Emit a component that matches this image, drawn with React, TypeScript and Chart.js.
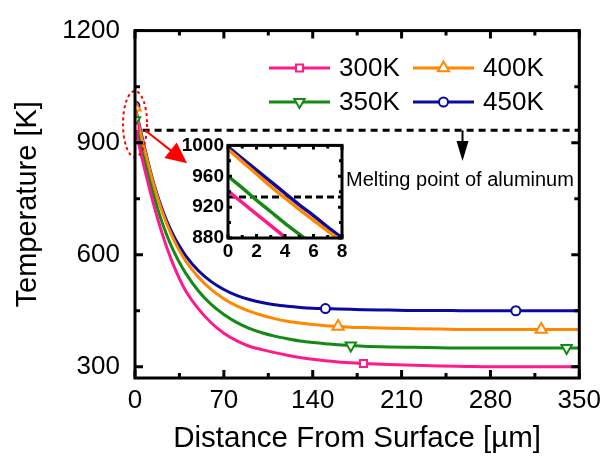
import { useEffect, useRef } from "react";
import { Chart, registerables } from "chart.js";
import { drawPoint } from "chart.js/helpers";

Chart.register(...registerables);

// Distance from the surface [µm]
const DISTANCE = [0, 1, 2, 3, 4, 5, 6, 7, 8, 10, 12, 15, 20, 25, 30, 35, 40, 50, 60, 70, 80, 90, 100, 110, 120, 130, 140, 150, 160, 170, 180, 200, 220, 240, 260, 280, 300, 320, 340, 350];

// Temperature profiles [K] for each initial temperature
const T_300K = [941, 926, 911, 896, 881, 866, 852, 838, 824, 796, 769, 731, 672, 620, 575, 536, 503, 455, 418, 390, 370, 355, 346, 338, 331, 325, 320, 316, 313, 311, 309, 306, 304, 302, 301, 300, 300, 300, 300, 300];
const T_350K = [960, 945, 929, 914, 899, 885, 871, 858, 845, 818, 792, 756, 700, 653, 613, 579, 550, 503, 467, 440, 419, 403, 391, 382, 375, 369, 365, 362, 359, 357, 355, 353, 352, 351, 350, 350, 350, 350, 350, 350];
const T_400K = [995, 979, 963, 947, 932, 917, 903, 889, 876, 848, 821, 784, 729, 683, 644, 611, 583, 540, 507, 482, 463, 449, 438, 429, 422, 417, 413, 410, 408, 406, 405, 403, 402, 401, 400, 400, 400, 400, 400, 400];
const T_450K = [998, 983, 968, 953, 938, 923, 909, 894, 880, 852, 825, 788, 735, 691, 654, 623, 597, 557, 528, 507, 491, 480, 472, 466, 462, 459, 457, 456, 455, 454, 453, 452, 451, 451, 450, 450, 450, 450, 450, 450];

// Distances where each series shows its marker
const MARKS_300K = [0, 180];
const MARKS_350K = [0, 170, 340];
const MARKS_400K = [0, 160, 320];
const MARKS_450K = [0, 150, 300];

const SERIES_LABELS = ["300K", "350K", "400K", "450K"];

const X_TICKS = [0, 70, 140, 210, 280, 350];
const Y_TICKS = [300, 600, 900, 1200];
const INSET_X_TICKS = [0, 2, 4, 6, 8];
const INSET_Y_TICKS = [880, 920, 960, 1000];

const MELTING_POINT = 933;
const MELTING_LABEL = "Melting point of aluminum";

const FONT = "'Liberation Sans', Arial, Helvetica, sans-serif";

const STYLES = [
  { color: "#FF1A8C", pointStyle: "rect", rotation: 0, radius: 5 },
  { color: "#138A13", pointStyle: "triangle", rotation: 180, radius: 6 },
  { color: "#FF8800", pointStyle: "triangle", rotation: 0, radius: 6.5 },
  { color: "#0A0AA0", pointStyle: "circle", rotation: 0, radius: 4.5 },
];

const SERIES = [T_300K, T_350K, T_400K, T_450K];
const MARKS = [MARKS_300K, MARKS_350K, MARKS_400K, MARKS_450K];

const midpoints = (ticks: number[]) =>
  ticks.slice(1).map((v, i) => (v + ticks[i]) / 2);

function drawFrame(
  chart: any,
  xMajor: number[],
  yMajor: number[],
  lw: number,
  majorLen: number,
  minorLen: number
) {
  const { ctx, chartArea, scales } = chart;
  const { left, right, top, bottom } = chartArea;
  const xs = scales.x;
  const ys = scales.y;
  ctx.save();
  ctx.strokeStyle = "#000";
  ctx.lineWidth = lw;
  ctx.lineCap = "butt";
  ctx.beginPath();
  const xTick = (v: number, len: number) => {
    const px = xs.getPixelForValue(v);
    ctx.moveTo(px, bottom);
    ctx.lineTo(px, bottom - len);
    ctx.moveTo(px, top);
    ctx.lineTo(px, top + len);
  };
  const yTick = (v: number, len: number) => {
    const py = ys.getPixelForValue(v);
    ctx.moveTo(left, py);
    ctx.lineTo(left + len, py);
    ctx.moveTo(right, py);
    ctx.lineTo(right - len, py);
  };
  xMajor.forEach((v) => xTick(v, majorLen));
  midpoints(xMajor).forEach((v) => xTick(v, minorLen));
  yMajor.forEach((v) => yTick(v, majorLen));
  midpoints(yMajor).forEach((v) => yTick(v, minorLen));
  ctx.stroke();
  ctx.strokeRect(left, top, right - left, bottom - top);
  ctx.restore();
}

function arrowHead(ctx: CanvasRenderingContext2D, x0: number, y0: number, x1: number, y1: number, len: number, half: number) {
  const a = Math.atan2(y1 - y0, x1 - x0);
  const bx = x1 - len * Math.cos(a);
  const by = y1 - len * Math.sin(a);
  ctx.beginPath();
  ctx.moveTo(x1, y1);
  ctx.lineTo(bx + half * Math.sin(a), by - half * Math.cos(a));
  ctx.lineTo(bx - half * Math.sin(a), by + half * Math.cos(a));
  ctx.closePath();
  ctx.fill();
}

const mainDecor = {
  id: "mainDecor",
  afterDatasetsDraw(chart: any) {
    const { ctx, chartArea, scales } = chart;
    const xs = scales.x;
    const ys = scales.y;
    const yMelt = ys.getPixelForValue(MELTING_POINT);
    ctx.save();

    // melting point line
    ctx.strokeStyle = "#000";
    ctx.lineWidth = 3;
    ctx.setLineDash([7, 5]);
    ctx.beginPath();
    ctx.moveTo(xs.getPixelForValue(6), yMelt);
    ctx.lineTo(chartArea.right, yMelt);
    ctx.stroke();
    ctx.setLineDash([]);

    // downward arrow from the melting line
    const ax = xs.getPixelForValue(258);
    const ayEnd = ys.getPixelForValue(851);
    ctx.lineWidth = 2;
    ctx.beginPath();
    ctx.moveTo(ax, yMelt);
    ctx.lineTo(ax, ayEnd - 15);
    ctx.stroke();
    ctx.fillStyle = "#000";
    arrowHead(ctx, ax, yMelt, ax, ayEnd, 20, 6);

    ctx.font = `20px ${FONT}`;
    ctx.textAlign = "left";
    ctx.textBaseline = "middle";
    ctx.fillText(MELTING_LABEL, 346, 180);

    // red dashed ellipse around the surface region
    ctx.strokeStyle = "#FF0000";
    ctx.fillStyle = "#FF0000";
    ctx.lineWidth = 2;
    ctx.setLineDash([3, 3]);
    ctx.beginPath();
    ctx.ellipse(xs.getPixelForValue(0), ys.getPixelForValue(950), 12, 33, 0, 0, Math.PI * 2);
    ctx.stroke();
    ctx.setLineDash([]);

    // red arrow pointing to the inset
    const sx = xs.getPixelForValue(8);
    const sy = ys.getPixelForValue(MELTING_POINT);
    const ex = xs.getPixelForValue(41);
    const ey = ys.getPixelForValue(845);
    ctx.beginPath();
    ctx.moveTo(sx, sy);
    ctx.lineTo(sx + (ex - sx) * 0.7, sy + (ey - sy) * 0.7);
    ctx.stroke();
    arrowHead(ctx, sx, sy, ex, ey, 21, 10);

    ctx.restore();

    drawFrame(chart, X_TICKS, Y_TICKS, 3, 8, 5);

    // legend
    const entries = [
      { i: 0, x0: 269, y: 68 },
      { i: 2, x0: 413, y: 68 },
      { i: 1, x0: 269, y: 102 },
      { i: 3, x0: 413, y: 102 },
    ];
    ctx.save();
    ctx.font = `26px ${FONT}`;
    ctx.textAlign = "left";
    ctx.textBaseline = "middle";
    entries.forEach(({ i, x0, y }) => {
      const st = STYLES[i];
      ctx.strokeStyle = st.color;
      ctx.lineWidth = 3;
      ctx.beginPath();
      ctx.moveTo(x0, y);
      ctx.lineTo(x0 + 61, y);
      ctx.stroke();
      ctx.fillStyle = "#fff";
      ctx.lineWidth = 2;
      drawPoint(ctx, { pointStyle: st.pointStyle, rotation: st.rotation, radius: st.radius, borderWidth: 2 } as any, x0 + 30.5, y);
      ctx.fillStyle = "#000";
      ctx.fillText(SERIES_LABELS[i], x0 + 70, y + 1);
    });
    ctx.restore();
  },
};

const insetDecor = {
  id: "insetDecor",
  beforeDatasetsDraw(chart: any) {
    const { ctx, chartArea, scales } = chart;
    const { left, right, top, bottom } = chartArea;
    ctx.save();
    ctx.fillStyle = "#fff";
    ctx.fillRect(left, top, right - left, bottom - top);
    const y = scales.y.getPixelForValue(MELTING_POINT);
    ctx.strokeStyle = "#000";
    ctx.lineWidth = 3;
    ctx.setLineDash([7, 4]);
    ctx.beginPath();
    ctx.moveTo(left, y);
    ctx.lineTo(right, y);
    ctx.stroke();
    ctx.restore();
  },
  afterDatasetsDraw(chart: any) {
    drawFrame(chart, INSET_X_TICKS, INSET_Y_TICKS, 3, 4, 3);
  },
};

function buildDatasets(withMarkers: boolean, lineWidth: number) {
  return SERIES.map((vals, i) => {
    const st = STYLES[i];
    const marks = MARKS[i];
    return {
      label: SERIES_LABELS[i],
      data: DISTANCE.map((d, k) => ({ x: d, y: vals[k] })),
      borderColor: st.color,
      backgroundColor: "#fff",
      borderWidth: lineWidth,
      cubicInterpolationMode: "monotone" as const,
      pointStyle: st.pointStyle,
      pointRotation: st.rotation,
      pointBorderWidth: 2,
      pointBorderColor: st.color,
      pointBackgroundColor: "#fff",
      pointRadius: withMarkers
        ? (c: any) => (marks.includes(DISTANCE[c.dataIndex]) ? st.radius : 0)
        : 0,
      pointHoverRadius: 0,
    };
  });
}

const plainLabel = (v: any) => String(v);

export default function App() {
  const mainRef = useRef<HTMLCanvasElement>(null);
  const insetRef = useRef<HTMLCanvasElement>(null);

  useEffect(() => {
    const tickFont = { family: FONT, size: 26 };
    const main = new Chart(mainRef.current!, {
      type: "line",
      data: { datasets: buildDatasets(true, 3) as any },
      plugins: [mainDecor],
      options: {
        responsive: false,
        animation: false,
        devicePixelRatio: 1,
        events: [],
        layout: { padding: { top: 24, right: 25, left: 0, bottom: 0 } },
        plugins: { legend: { display: false }, tooltip: { enabled: false } },
        scales: {
          x: {
            type: "linear",
            min: 0,
            max: 350,
            grid: { display: false, drawTicks: false },
            border: { display: false },
            afterBuildTicks: (s: any) => {
              s.ticks = X_TICKS.map((v) => ({ value: v }));
            },
            afterFit: (s: any) => {
              s.height = 80;
            },
            ticks: { font: tickFont, color: "#000", padding: 7, maxRotation: 0, autoSkip: false, callback: plainLabel },
            title: {
              display: true,
              text: "Distance From Surface [µm]",
              font: { family: FONT, size: 29.5 },
              color: "#000",
              padding: { top: 0, bottom: 1 },
            },
          },
          y: {
            type: "linear",
            min: 270,
            max: 1200,
            grid: { display: false, drawTicks: false },
            border: { display: false },
            afterBuildTicks: (s: any) => {
              s.ticks = Y_TICKS.map((v) => ({ value: v }));
            },
            afterFit: (s: any) => {
              s.width = 135;
            },
            ticks: { font: tickFont, color: "#000", padding: 15, callback: plainLabel },
            title: {
              display: true,
              text: "Temperature [K]",
              font: { family: FONT, size: 29 },
              color: "#000",
              padding: { top: 11, bottom: 0 },
            },
          },
        },
      } as any,
    });

    const insetFont = { family: FONT, size: 19, weight: "bold" };
    const inset = new Chart(insetRef.current!, {
      type: "line",
      data: { datasets: buildDatasets(false, 3.5) as any },
      plugins: [insetDecor],
      options: {
        responsive: false,
        animation: false,
        devicePixelRatio: 1,
        events: [],
        layout: { padding: { top: 15, right: 18, left: 0, bottom: 0 } },
        plugins: { legend: { display: false }, tooltip: { enabled: false } },
        scales: {
          x: {
            type: "linear",
            min: 0,
            max: 8,
            grid: { display: false, drawTicks: false },
            border: { display: false },
            afterBuildTicks: (s: any) => {
              s.ticks = INSET_X_TICKS.map((v) => ({ value: v }));
            },
            afterFit: (s: any) => {
              s.height = 27;
            },
            ticks: { font: insetFont, color: "#000", padding: 2, maxRotation: 0, autoSkip: false, callback: plainLabel },
          },
          y: {
            type: "linear",
            min: 880,
            max: 1000,
            grid: { display: false, drawTicks: false },
            border: { display: false },
            afterBuildTicks: (s: any) => {
              s.ticks = INSET_Y_TICKS.map((v) => ({ value: v }));
            },
            afterFit: (s: any) => {
              s.width = 58;
            },
            ticks: { font: insetFont, color: "#000", padding: 4, callback: plainLabel },
          },
        },
      } as any,
    });

    return () => {
      main.destroy();
      inset.destroy();
    };
  }, []);

  return (
    <div
      style={{
        position: "fixed",
        left: 0,
        top: 0,
        width: 608,
        height: 458,
        background: "#fff",
      }}
    >
      <canvas
        ref={mainRef}
        width={608}
        height={458}
        style={{ position: "absolute", left: 0, top: 0, width: 608, height: 458 }}
      />
      <canvas
        ref={insetRef}
        width={190}
        height={135}
        style={{ position: "absolute", left: 170, top: 130, width: 190, height: 135 }}
      />
    </div>
  );
}
